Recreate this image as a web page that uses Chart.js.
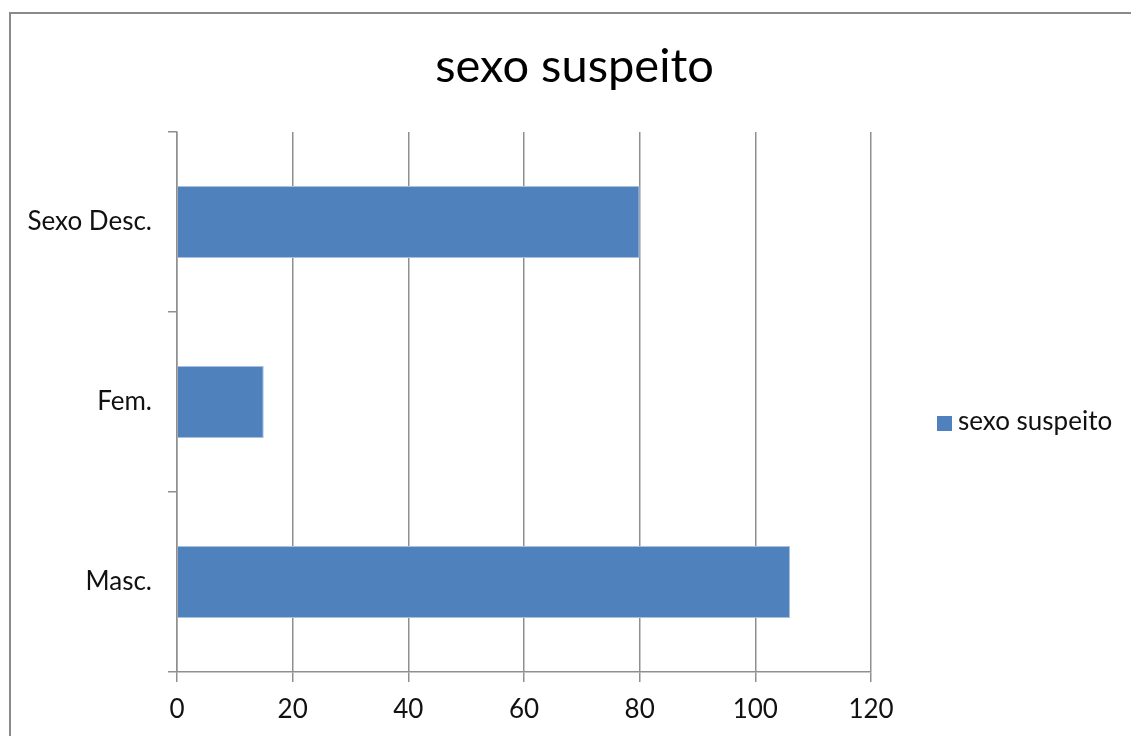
<!DOCTYPE html>
<html lang="pt">
<head>
<meta charset="utf-8">
<title>sexo suspeito</title>
<script src="https://cdn.jsdelivr.net/npm/chart.js@4.4.1/dist/chart.umd.min.js"></script>
<style>
  html, body {
    margin: 0;
    overflow: hidden;
    background: #ffffff;
    font-family: Lato, 'Open Sans', sans-serif;
  }
  .frame {
    position: absolute;
    left: 9px;
    top: 12px;
    right: -40px;
    bottom: -40px;
    border-top: 2px solid #8a8a8a;
    border-left: 2px solid #8a8a8a;
    pointer-events: none;
  }
  .chart-box {
    position: absolute;
    left: 9px;
    top: 14px;
    width: 1131px;
    height: 722px;
  }
  .legend-swatch {
    position: absolute;
    left: 937px;
    top: 416px;
    width: 15px;
    height: 15px;
    background: #4f81bd;
  }
  .legend-text {
    position: absolute;
    left: 958px;
    top: 405px;
    font-size: 26px;
    line-height: 31px;
    color: #111111;
    white-space: nowrap;
  }
</style>
</head>
<body>
<div class="chart-box"><canvas id="chart"></canvas></div>
<div class="frame"></div>
<div class="legend-swatch"></div>
<div class="legend-text" id="legend-label"></div>

<script>
// values, top row first
const categories = ['Sexo Desc.', 'Fem.', 'Masc.'];
const counts = [80, 15, 106];
const seriesName = 'sexo suspeito';
const chartTitle = 'sexo suspeito';
const xMin = 0;
const xMax = 120;
const xStep = 20;

const barColor = '#4f81bd';
const lineColor = '#8f8f8f';
const textColor = '#111111';
const fontFamily = "Lato, 'Open Sans', sans-serif";

/** Builds the horizontal bar chart. */
function buildChart() {
  document.getElementById('legend-label').textContent = seriesName;

  const ctx = document.getElementById('chart').getContext('2d');

  /* global Chart */
  return new Chart(ctx, {
    type: 'bar',
    data: {
      labels: categories,
      datasets: [
        {
          label: seriesName,
          data: counts,
          backgroundColor: barColor,
          borderColor: '#a9c0df',
          borderWidth: 1,
          borderSkipped: 'start',
          categoryPercentage: 0.4,
          barPercentage: 1,
        },
      ],
    },
    options: {
      indexAxis: 'y',
      responsive: true,
      maintainAspectRatio: false,
      animation: false,
      layout: { padding: 0 },
      plugins: {
        legend: { display: false },
        tooltip: { enabled: false },
        title: {
          display: true,
          text: chartTitle,
          color: '#000000',
          font: { family: fontFamily, size: 47, weight: 'normal', lineHeight: 1.2 },
          padding: { top: 25, bottom: 36.6 },
        },
      },
      scales: {
        x: {
          type: 'linear',
          position: 'bottom',
          min: xMin,
          max: xMax,
          ticks: {
            stepSize: xStep,
            color: textColor,
            padding: 12,
            font: { family: fontFamily, size: 26 },
          },
          grid: {
            color: lineColor,
            lineWidth: 1.5,
            tickLength: 10,
          },
          border: { display: true, color: lineColor, width: 1.5 },
          afterFit: (scale) => { scale.height = 64; },
        },
        y: {
          type: 'category',
          position: 'left',
          ticks: {
            color: textColor,
            padding: 16,
            font: { family: fontFamily, size: 26 },
          },
          grid: {
            offset: true,
            drawOnChartArea: false,
            color: lineColor,
            lineWidth: 1.5,
            tickLength: 9,
          },
          border: { display: true, color: lineColor, width: 1.5 },
          afterFit: (scale) => { scale.width = 168; },
        },
        // empty axis that only keeps the room on the right for the legend
        yRight: {
          type: 'category',
          position: 'right',
          ticks: { display: false },
          grid: { display: false },
          border: { display: false },
          afterFit: (scale) => { scale.width = 269; },
        },
      },
    },
  });
}

buildChart();
</script>
</body>
</html>
